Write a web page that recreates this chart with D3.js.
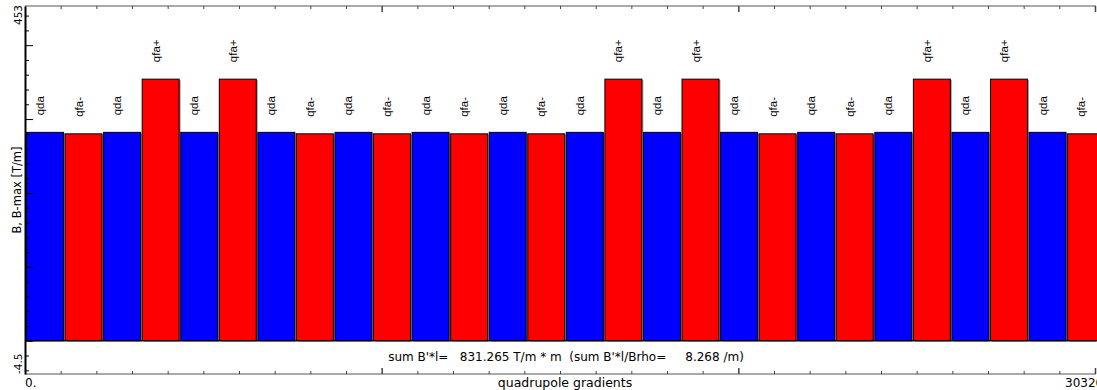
<!DOCTYPE html>
<html>
<head>
<meta charset="utf-8">
<script src="https://cdn.jsdelivr.net/npm/d3@7"></script>
<style>
  html, body { margin: 0; padding: 0; background: #fff; overflow: hidden; }
  svg { display: block; font-family: "DejaVu Sans", sans-serif; }
</style>
</head>
<body>
<div id="chart"></div>
<script>
// quadrupole names, in lattice order
const magnets = ['qda', 'qfa-', 'qda', 'qfa+', 'qda', 'qfa+', 'qda', 'qfa-', 'qda', 'qfa-',
  'qda', 'qfa-', 'qda', 'qfa-', 'qda', 'qfa+', 'qda', 'qfa+', 'qda', 'qfa-',
  'qda', 'qfa-', 'qda', 'qfa+', 'qda', 'qfa+', 'qda', 'qfa-'];
// |B'| gradient of each magnet [T/m]
const gradients = [28.2, 28.0, 28.2, 35.4, 28.2, 35.4, 28.2, 28.0, 28.2, 28.0,
  28.2, 28.0, 28.2, 28.0, 28.2, 35.4, 28.2, 35.4, 28.2, 28.0,
  28.2, 28.0, 28.2, 35.4, 28.2, 35.4, 28.2, 28.0];
const yDomain = [-4.5, 45.3];
const yTickLabels = ['-4.5', '453'];
const xDomain = [0, 30];
const xTickLabels = ['0.', '30320'];
const sumText = "sum B'*l=   831.265 T/m * m  (sum B'*l/Brho=     8.268 /m)";
const xTitle = 'quadrupole gradients';
const yTitle = 'B, B-max [T/m]';

const W = 1097, H = 390;
const margin = { top: 6, right: 1, bottom: 16, left: 25 };
const plotW = W - margin.left - margin.right;
const plotH = H - margin.top - margin.bottom;

const svg = d3.select('#chart').append('svg')
  .attr('width', W).attr('height', H);

const g = svg.append('g')
  .attr('transform', `translate(${margin.left},${margin.top})`);

const x = d3.scaleLinear().domain(xDomain).range([0, plotW - 1]);
const y = d3.scaleLinear().domain(yDomain).range([plotH, 0]);

// bars are laid out by element index, slightly wider pitch than the length axis
const pitch = 38.56;
const xb = d3.scaleLinear().domain([0, magnets.length]).range([1.5, 1.5 + magnets.length * pitch]);
const barW = pitch - 1.6;

const bars = g.append('g');
magnets.forEach((name, i) => {
  const x0 = xb(i);
  const top = y(gradients[i]);
  const color = name.startsWith('qd') ? '#0000ff' : '#ff0000';
  // shadow
  bars.append('rect')
    .attr('x', x0 + 1.5).attr('y', top + 1)
    .attr('width', barW).attr('height', y(0) - top)
    .attr('fill', '#a0a0a0');
  bars.append('rect')
    .attr('x', x0).attr('y', top)
    .attr('width', barW).attr('height', y(0) - top)
    .attr('fill', color)
    .attr('stroke', '#000').attr('stroke-width', 1);
  const cx = x0 + barW / 2;
  g.append('text')
    .attr('transform', `translate(${cx - 1},${top - 17}) rotate(-90)`)
    .attr('font-family', '"Liberation Sans", Arial, sans-serif')
    .attr('font-size', 11.5)
    .attr('fill', '#000')
    .text(name);
});

// zero line
g.append('line')
  .attr('x1', 0).attr('x2', plotW)
  .attr('y1', y(0)).attr('y2', y(0))
  .attr('stroke', '#000').attr('stroke-width', 1.2);

// bottom and top axes, ticks inward
const xTicks = d3.range(xDomain[0], xDomain[1] + 1, 1);
const bottomAxis = d3.axisBottom(x).tickValues(xTicks).tickFormat('').tickSizeOuter(0)
  .tickSizeInner(-3);
const topAxis = d3.axisTop(x).tickValues(xTicks).tickFormat('').tickSizeOuter(0)
  .tickSizeInner(-3);

const bottomG = g.append('g').attr('transform', `translate(0,${plotH})`).call(bottomAxis);
const topG = g.append('g').call(topAxis);
[bottomG, topG].forEach(ax => {
  ax.select('.domain').attr('stroke', '#555').attr('d', `M0,0H${plotW}`);
  ax.selectAll('.tick line').attr('stroke', '#444');
  ax.selectAll('.tick').filter(d => d % 10 === 0 && d > 0).select('line')
    .attr('y2', ax === bottomG ? -6 : 6).attr('stroke-width', 1.5);
});

// left axis
const yTicks = d3.range(-4, 45, 2);
const leftAxis = d3.axisLeft(y).tickValues(yTicks).tickFormat('').tickSizeOuter(0)
  .tickSizeInner(-4);
const leftG = g.append('g').call(leftAxis);
leftG.select('.domain').attr('stroke', '#000').attr('stroke-width', 2);
leftG.selectAll('.tick line').attr('stroke', '#000');
leftG.selectAll('.tick').filter(d => d % 10 === 0).select('line').attr('x2', 8);

// y tick labels at the domain ends, rotated
g.append('text')
  .attr('transform', `translate(-3,${y(yDomain[1]) - 1}) rotate(-90)`)
  .attr('text-anchor', 'end').attr('font-size', 10.5).text(yTickLabels[1]);
g.append('text')
  .attr('transform', `translate(-3,${y(yDomain[0])}) rotate(-90)`)
  .attr('text-anchor', 'start').attr('font-size', 10.5).text(yTickLabels[0]);

g.append('text')
  .attr('transform', `translate(-4,${plotH / 2}) rotate(-90)`)
  .attr('text-anchor', 'middle').attr('font-size', 11.5).text(yTitle);

// x tick labels and title
g.append('text')
  .attr('x', x(xDomain[0])).attr('y', plotH + 13)
  .attr('font-size', 12).text(xTickLabels[0]);
g.append('text')
  .attr('x', 1065 - margin.left).attr('y', plotH + 13)
  .attr('font-size', 12).text(xTickLabels[1]);
g.append('text')
  .attr('x', 565 - margin.left).attr('y', plotH + 13)
  .attr('text-anchor', 'middle').attr('font-size', 12.5).text(xTitle);

// summary line
g.append('text')
  .attr('xml:space', 'preserve')
  .attr('x', 566 - margin.left).attr('y', 355)
  .attr('text-anchor', 'middle').attr('font-size', 12)
  .text(sumText);
</script>
</body>
</html>
